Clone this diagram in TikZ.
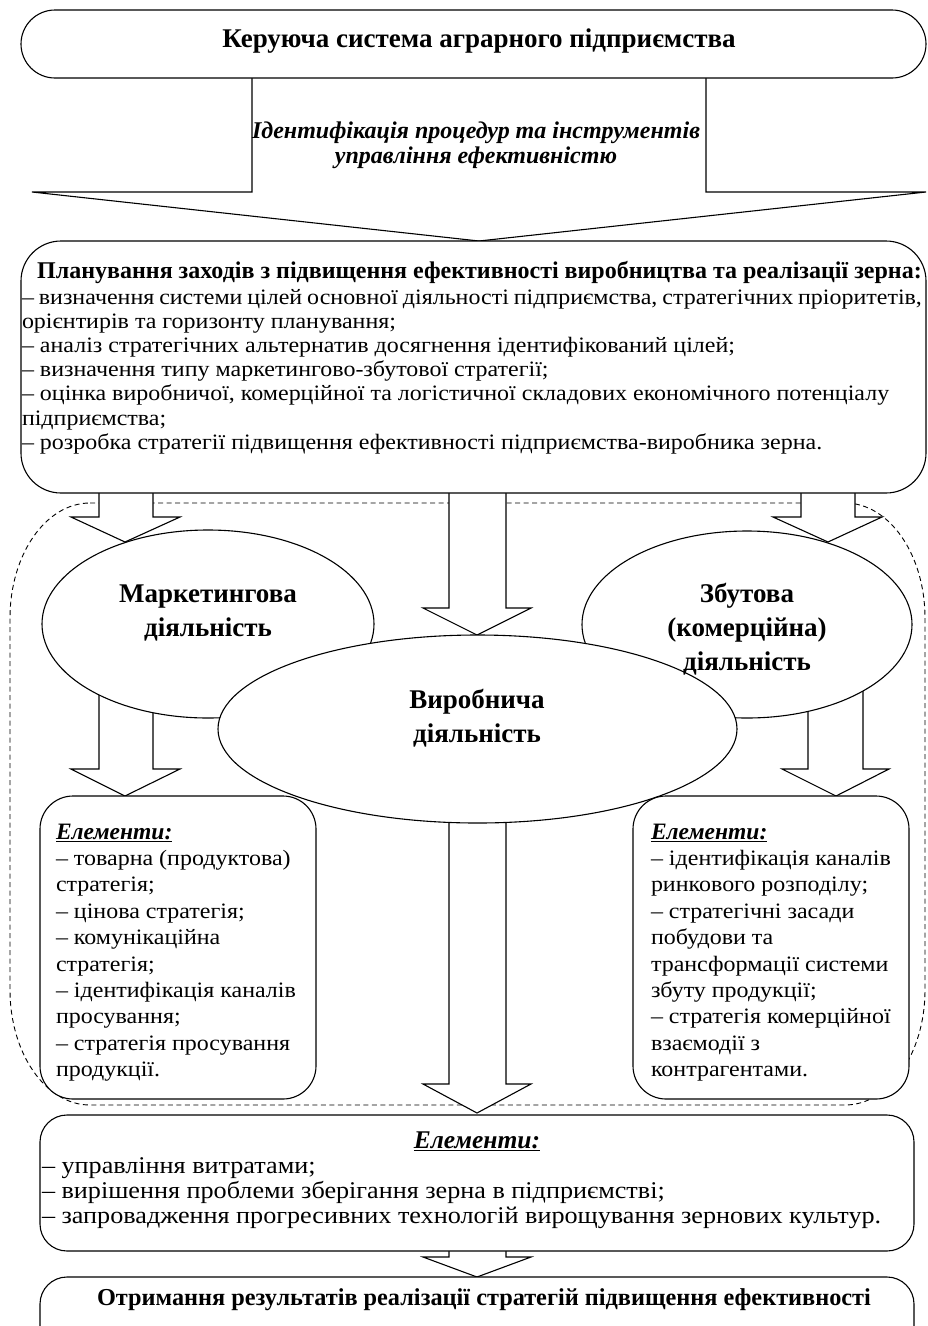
\documentclass[tikz,border=0pt]{standalone}
\usepackage{fontspec}
\setmainfont{Liberation Serif}
\newfontfamily\bodyfont[FakeStretch=1.09]{Liberation Serif}
\usetikzlibrary{shapes.geometric}
\begin{document}
\begin{tikzpicture}[x=1pt,y=-1pt, line width=1.1pt, line join=miter,
  every node/.style={inner sep=0pt, outer sep=0pt},
  rbox/.style={draw, fill=white, rounded corners=#1},
  blockarrow/.style={draw, fill=white, line join=miter},
  oval/.style={draw, fill=white, ellipse, inner sep=0pt},
  dashreg/.style={draw, line width=0.9pt, dash pattern=on 5pt off 3.5pt},
  ttl/.style={font=\fontsize{#1}{#1}\selectfont\bfseries},
  bodytxt/.style 2 args={font=\bodyfont\fontsize{#1}{#2}\selectfont},
]
\useasboundingbox (0,0) rectangle (928,1326);
\clip (0,0) rectangle (928,1326);

% dashed region
\draw[dashreg] (90,503) -- (845,503) .. controls (889.2,503) and (925,554.5) .. (925,618)
  -- (925,990) .. controls (925,1053.5) and (889.2,1105) .. (845,1105)
  -- (90,1105) .. controls (45.8,1105) and (10,1053.5) .. (10,990)
  -- (10,618) .. controls (10,554.5) and (45.8,503) .. (90,503) -- cycle;

% block arrows
\draw[blockarrow] (252,60) -- (252,192) -- (32,192) -- (479,241) -- (926,192) -- (706,192) -- (706,60);
\draw[blockarrow] (99,480) -- (99,517) -- (71,517) -- (125,542) -- (180,517) -- (153,517) -- (153,480);
\draw[blockarrow] (449,480) -- (449,608) -- (423,608) -- (477,635) -- (531,608) -- (506,608) -- (506,480);
\draw[blockarrow] (801,480) -- (801,517) -- (773,517) -- (828,542) -- (882,517) -- (855,517) -- (855,480);
\draw[blockarrow] (99,680) -- (99,769) -- (71,769) -- (125,796) -- (180,769) -- (153,769) -- (153,680);
\draw[blockarrow] (808,680) -- (808,769) -- (782,769) -- (836,796) -- (889,769) -- (863,769) -- (863,680);
\draw[blockarrow] (449,800) -- (449,1084) -- (423,1084) -- (477,1113) -- (531,1084) -- (506,1084) -- (506,800);
\draw[blockarrow] (449,1240) -- (449,1257) -- (423,1257) -- (477,1277) -- (531,1257) -- (506,1257) -- (506,1240);

% ellipses
\node[oval, minimum width=332pt, minimum height=188pt] (mkt) at (208,624) {};
\node[oval, minimum width=330pt, minimum height=187pt] (sal) at (747,624.5) {};
\node[oval, minimum width=519pt, minimum height=188pt] (prod) at (477.5,729) {};

% boxes
\node[rbox=34pt, minimum width=905pt, minimum height=68pt] (ctrl) at (473.5,44) {};
\node[rbox=40pt, minimum width=905pt, minimum height=252pt] (plan) at (473.5,367) {};
\node[rbox=33pt, minimum width=276pt, minimum height=303pt] (lbox) at (178,947.5) {};
\node[rbox=33pt, minimum width=276pt, minimum height=303pt] (rbx) at (771,947.5) {};
\node[rbox=27pt, minimum width=874pt, minimum height=136pt] (bbox) at (477,1183) {};
\node[rbox=27pt, minimum width=874pt, minimum height=80pt] (fbox) at (477,1317) {};

% texts
\node[anchor=base, ttl=27] (t1) at (479,47) {Керуюча система аграрного підприємства};
\node[anchor=base, font=\fontsize{24}{25}\selectfont\bfseries\itshape] (t2) at (476,138)
  {\begin{tabular}[t]{@{}c@{}}Ідентифікація процедур та інструментів\\ управління ефективністю\end{tabular}};
\node[anchor=base, ttl=24] (pt) at (479.5,278) {Планування заходів з підвищення ефективності виробництва та реалізації зерна:};
\node[anchor=base west, bodytxt={22}{24.2}] (pb) at (22,304)
  {\begin{tabular}[t]{@{}l@{}}
  \makebox[900pt][s]{– визначення системи цілей основної діяльності підприємства, стратегічних пріоритетів,}\\
  орієнтирів та горизонту планування;\\
  – аналіз стратегічних альтернатив досягнення ідентифікований цілей;\\
  – визначення типу маркетингово-збутової стратегії;\\
  – оцінка виробничої, комерційної та логістичної складових економічного потенціалу\\
  підприємства;\\
  – розробка стратегії підвищення ефективності підприємства-виробника зерна.
  \end{tabular}};

\node[anchor=base, font=\fontsize{27}{34}\selectfont\bfseries] (mkttxt) at (208,602)
  {\begin{tabular}[t]{@{}c@{}}Маркетингова\\діяльність\end{tabular}};
\node[anchor=base, font=\fontsize{27}{34}\selectfont\bfseries] (saltxt) at (747,602)
  {\begin{tabular}[t]{@{}c@{}}Збутова\\(комерційна)\\діяльність\end{tabular}};
\node[anchor=base, font=\fontsize{27}{34}\selectfont\bfseries] (prodtxt) at (477,708)
  {\begin{tabular}[t]{@{}c@{}}Виробнича\\діяльність\end{tabular}};

\node[anchor=base west, bodytxt={22}{26.4}] (ltxt) at (56,839)
  {\begin{tabular}[t]{@{}l@{}}
  {\rmfamily\fontsize{23.5}{26.4}\selectfont\underline{\textbf{\textit{Елементи:}}}}\\
  – товарна (продуктова)\\
  стратегія;\\
  – цінова стратегія;\\
  – комунікаційна\\
  стратегія;\\
  – ідентифікація каналів\\
  просування;\\
  – стратегія просування\\
  продукції.
  \end{tabular}};
\node[anchor=base west, bodytxt={22}{26.4}] (rtxt) at (651,839)
  {\begin{tabular}[t]{@{}l@{}}
  {\rmfamily\fontsize{23.5}{26.4}\selectfont\underline{\textbf{\textit{Елементи:}}}}\\
  – ідентифікація каналів\\
  ринкового розподілу;\\
  – стратегічні засади\\
  побудови та\\
  трансформації системи\\
  збуту продукції;\\
  – стратегія комерційної\\
  взаємодії з\\
  контрагентами.
  \end{tabular}};

\node[anchor=base, font=\fontsize{25.5}{25}\selectfont\bfseries\itshape] (btitle) at (477,1148) {\underline{Елементи:}};
\node[anchor=base west, bodytxt={24}{25}] (btxt) at (42,1173)
  {\begin{tabular}[t]{@{}l@{}}
  – управління витратами;\\
  – вирішення проблеми зберігання зерна в підприємстві;\\
  – запровадження прогресивних технологій вирощування зернових культур.
  \end{tabular}};

\node[anchor=base, ttl=24.3] (ft) at (484,1305) {Отримання результатів реалізації стратегій підвищення ефективності};
\end{tikzpicture}
\end{document}
